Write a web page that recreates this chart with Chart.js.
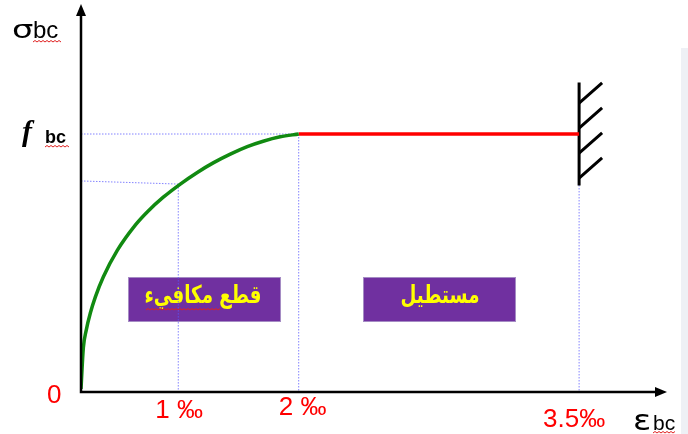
<!DOCTYPE html>
<html lang="ar">
  <head>
    <meta charset="utf-8">
    <title>Parabole - rectangle</title>
    <script src="https://cdn.jsdelivr.net/npm/chart.js@4.4.1/dist/chart.umd.min.js"></script>
    <style>
      html, body { margin: 0; padding: 0; background: #fff; }
      #wrap { width: 688px; height: 434px; position: relative; }
    </style>
  </head>
  <body>
    <div id="wrap"><canvas id="chart" width="688" height="434"></canvas></div>

  <script type="text/javascript">
  // strain eps (per mille) and stress sigma / fbc
  var curveEps   = [0, 0.024, 0.054, 0.096, 0.147, 0.229, 0.373, 0.558, 0.681, 0.846,
                    1.017, 1.158, 1.290, 1.432, 1.573, 1.705, 1.846, 2.0];
  var curveSigma = [0.012, 0.171, 0.240, 0.306, 0.368, 0.446, 0.549, 0.647, 0.698, 0.755,
                    0.806, 0.851, 0.888, 0.922, 0.951, 0.972, 0.989, 1.0];
  var plateauEps   = [2.0, 3.5];
  var plateauSigma = [1.0, 1.0];

  // dotted guide segments, null = gap
  var guideEps   = [0, 2, null, 2, 2, null, 0, 1, null, 1, 1, null, 3.5, 3.5];
  var guideSigma = [1, 1, null, 1, 0, null, 0.818, 0.806, null, 0.806, 0, null, 0.814, 0];

  // fixed support (wall) at 3.5 per mille with its hatches
  var wallEps   = [3.5, 3.5];
  var wallSigma = [1.2, 0.8];
  var hatchEps   = [3.5, 3.657, null, 3.5, 3.657, null, 3.5, 3.657, null, 3.5, 3.657];
  var hatchSigma = [1.120, 1.198, null, 1.023, 1.101, null, 0.926, 1.004, null, 0.829, 0.907];

  var xTickValues = [1, 2, 3.5];
  var xTickLabels = ["1 ‰", "2 ‰", "3.5‰"];
  var zoneLabels = ["قطع مكافيء", "مستطيل"];

  // the x axis of the drawing is not to scale: piecewise mapping
  var X_BREAKS = [0, 1, 2, 3.5, 4.1];
  var X_FRACS  = [0, 0.166, 0.3715, 0.85, 1];

  class BrokenScale extends Chart.LinearScale {
    getPixelForValue(v) {
      var i = 0;
      while (i < X_BREAKS.length - 2 && v > X_BREAKS[i + 1]) i++;
      var t = (v - X_BREAKS[i]) / (X_BREAKS[i + 1] - X_BREAKS[i]);
      var f = X_FRACS[i] + t * (X_FRACS[i + 1] - X_FRACS[i]);
      return this.getPixelForDecimal(f);
    }
    getValueForPixel(p) {
      var f = this.getDecimalForPixel(p);
      var i = 0;
      while (i < X_FRACS.length - 2 && f > X_FRACS[i + 1]) i++;
      var t = (f - X_FRACS[i]) / (X_FRACS[i + 1] - X_FRACS[i]);
      return X_BREAKS[i] + t * (X_BREAKS[i + 1] - X_BREAKS[i]);
    }
  }
  BrokenScale.id = 'broken';
  BrokenScale.defaults = {};
  Chart.register(BrokenScale);

  function pts(xs, ys) {
    var out = [];
    for (var i = 0; i < xs.length; i++) {
      out.push({ x: xs[i] === null ? NaN : xs[i], y: ys[i] });
    }
    return out;
  }

  // spell-check style red wavy underline
  function squiggle(ctx, x0, x1, y) {
    ctx.save();
    ctx.strokeStyle = '#e02020';
    ctx.lineWidth = 1;
    ctx.beginPath();
    var up = true;
    ctx.moveTo(x0, y);
    for (var x = x0 + 2; x <= x1; x += 2) {
      ctx.lineTo(x, up ? y - 1.5 : y);
      up = !up;
    }
    ctx.stroke();
    ctx.restore();
  }

  // greek letter drawn a bit wider, like the symbol font of the original
  function wideGlyph(ctx, ch, x, y, size, sx) {
    ctx.save();
    ctx.font = size + 'px "DejaVu Sans"';
    ctx.translate(x, y);
    ctx.scale(sx, 1);
    ctx.fillText(ch, 0, 0);
    ctx.restore();
  }

  var decor = {
    id: 'decor',
    beforeDatasetsDraw: function(chart) {
      var ctx = chart.ctx;
      // purple zone boxes
      var boxes = [[128, 277, 153, 45], [363, 277, 153, 45]];
      var textX = [203, 440];
      for (var i = 0; i < boxes.length; i++) {
        var b = boxes[i];
        ctx.save();
        ctx.fillStyle = '#7030a0';
        ctx.fillRect(b[0], b[1], b[2], b[3]);
        ctx.strokeStyle = '#a58cc4';
        ctx.lineWidth = 1;
        ctx.strokeRect(b[0] + 0.5, b[1] + 0.5, b[2] - 1, b[3] - 1);
        ctx.fillStyle = '#ffff00';
        ctx.font = 'bold 22px "DejaVu Sans"';
        ctx.direction = 'rtl';
        ctx.textAlign = 'center';
        ctx.textBaseline = 'middle';
        ctx.translate(textX[i], b[1] + 20);
        ctx.scale(0.83, 1.12);
        ctx.fillText(zoneLabels[i], 0, 0);
        ctx.restore();
      }
      squiggle(ctx, 146, 220, 310);
    },
    afterDatasetsDraw: function(chart) {
      var ctx = chart.ctx;
      var xs = chart.scales.x, ys = chart.scales.y;
      var x0 = xs.getPixelForValue(0), y0 = ys.getPixelForValue(0);
      var top = chart.chartArea.top - 1, right = chart.chartArea.right;
      ctx.save();
      ctx.strokeStyle = '#000';
      ctx.fillStyle = '#000';
      ctx.lineWidth = 2.5;
      ctx.beginPath();
      ctx.moveTo(x0, top + 8);
      ctx.lineTo(x0, y0);
      ctx.lineTo(right - 8, y0);
      ctx.stroke();
      // arrow heads
      ctx.beginPath();
      ctx.moveTo(x0, top);
      ctx.lineTo(x0 - 5, top + 12);
      ctx.lineTo(x0 + 5, top + 12);
      ctx.closePath();
      ctx.fill();
      ctx.beginPath();
      ctx.moveTo(right, y0);
      ctx.lineTo(right - 12, y0 - 5);
      ctx.lineTo(right - 12, y0 + 5);
      ctx.closePath();
      ctx.fill();

      // axis titles
      ctx.textBaseline = 'alphabetic';
      ctx.textAlign = 'left';
      wideGlyph(ctx, 'σ', 12, 38, 25, 1.35);
      ctx.font = '24px "Liberation Sans"';
      ctx.fillText('bc', 33, 38);
      squiggle(ctx, 33, 62, 42);
      ctx.font = 'italic bold 30px "Liberation Serif"';
      ctx.fillText('f', 22, 141);
      ctx.font = 'bold 18px "Liberation Sans"';
      ctx.fillText('bc', 45, 143);
      squiggle(ctx, 45, 70, 147);
      wideGlyph(ctx, 'ε', 633, 430, 28, 1.2);
      ctx.font = '21px "Liberation Sans"';
      ctx.fillText('bc', 653, 430);
      squiggle(ctx, 653, 675, 433);

      // tick labels
      ctx.fillStyle = '#ff0000';
      ctx.font = '26px "Liberation Sans"';
      ctx.textAlign = 'left';
      ctx.textBaseline = 'middle';
      ctx.fillText('0', 47, 396);
      var tickDx = [-23, -20, -36];
      var tickY = [411, 408, 420];
      for (var i = 0; i < xTickValues.length; i++) {
        ctx.fillText(xTickLabels[i], xs.getPixelForValue(xTickValues[i]) + tickDx[i], tickY[i]);
      }
      ctx.restore();
    },
    beforeDraw: function(chart) {
      var ctx = chart.ctx;
      ctx.save();
      ctx.fillStyle = '#fff';
      ctx.fillRect(0, 0, chart.width, chart.height);
      ctx.fillStyle = '#eef0f5';
      ctx.fillRect(681, 48, 7, 386);
      ctx.restore();
    }
  };

  new Chart(document.getElementById('chart'), {
    type: 'line',
    data: {
      datasets: [
        { data: pts(curveEps, curveSigma), borderColor: '#118a11', borderWidth: 3.5,
          tension: 0.4, cubicInterpolationMode: 'monotone' },
        { data: pts(plateauEps, plateauSigma), borderColor: '#ff0000', borderWidth: 3.5 },
        { data: pts(wallEps, wallSigma), borderColor: '#000', borderWidth: 3 },
        { data: pts(hatchEps, hatchSigma), borderColor: '#000', borderWidth: 3, spanGaps: false },
        { data: pts(guideEps, guideSigma), borderColor: 'rgba(90,90,255,0.75)', borderWidth: 1,
          borderDash: [1.5, 1.5], spanGaps: false }
      ]
    },
    options: {
      responsive: false,
      animation: false,
      layout: { padding: { left: 81, top: 5, right: 21, bottom: 42 } },
      elements: { point: { radius: 0 }, line: { fill: false } },
      plugins: { legend: { display: false }, tooltip: { enabled: false } },
      scales: {
        x: { type: 'broken', min: 0, max: 4.1, display: false },
        y: { type: 'linear', min: 0, max: 1.5, display: false }
      }
    },
    plugins: [decor]
  });
  </script>
  </body>
</html>
